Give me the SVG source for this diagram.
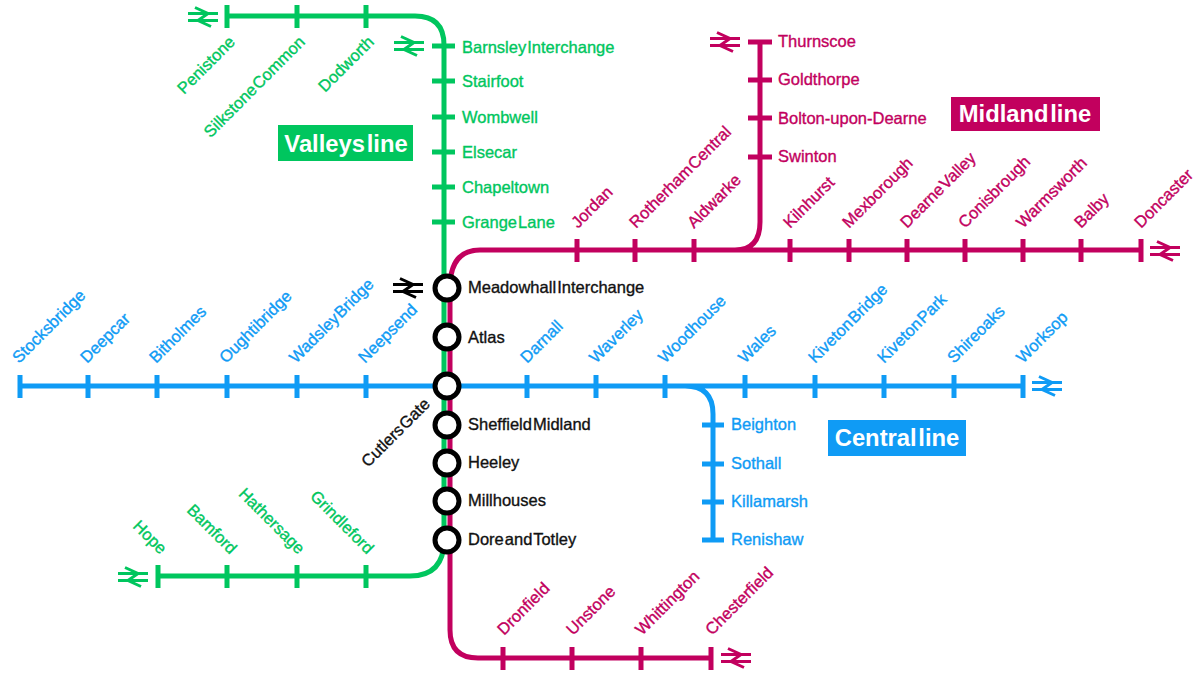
<svg xmlns="http://www.w3.org/2000/svg" width="1200" height="675" viewBox="0 0 1200 675">
<style>
text{font-family:"Liberation Sans",Arial,sans-serif;font-size:16.5px;word-spacing:-3.5px;stroke-width:.35px;paint-order:stroke}
.g{fill:#00c65e;stroke:#00c65e}.m{fill:#c2005e;stroke:#c2005e}.b{fill:#0f9bf5;stroke:#0f9bf5}.k{fill:#111;stroke:#111}
.ln{fill:none;stroke-width:5}
.sg{stroke:#00c65e}.sm{stroke:#c2005e}.sb{stroke:#0f9bf5}
.e{text-anchor:end}
.st{fill:#fff;stroke:#000;stroke-width:5}
.t{font-size:23.8px;font-weight:700;fill:#fff;text-anchor:middle;word-spacing:-5px;stroke:none}
.br{fill:none;stroke-width:3}
</style>
<defs>
<g id="br"><path d="M-15,-3.5H15M-15,3.5H15M-8,-9.5L5,-3.5L-5,3.5L8,9.5"/></g>
</defs>
<rect width="1200" height="675" fill="#fff"/>
<g id="connectors">
<path class="ln sb" d="M20,386H1023M685,386Q713,386 713,414V540M20,375V398M88,375V398M157,375V398M227,375V398M297,375V398M366,375V398M527,375V398M596,375V398M665,375V398M745,375V398M815,375V398M884,375V398M954,375V398M1023,375V398M702,425H724M702,464H724M702,502H724M702,540H724"/>
<path class="ln sg" d="M227,16H415Q444,16 444,45V540Q444,576 410,576H158M227,5V28M297,5V28M366,5V28M432,46H455M432,81H455M432,117H455M432,152H455M432,187H455M432,222H455M158,565V588M227,565V588M297,565V588M366,565V588"/>
<path class="ln sm" d="M1141,250H480Q450,250 450,288V630Q450,658 478,658H711M735,250Q760,250 760,222V42M577,239V262M635,239V262M694,239V262M790,239V262M849,239V262M907,239V262M965,239V262M1023,239V262M1081,239V262M1141,239V262M748,42H772M748,80H772M748,118H772M748,157H772M503,647V670M572,647V670M641,647V670M711,647V670"/>
</g>
<g id="rail-symbols">
<use href="#br" x="203" y="17" class="br sg"/>
<use href="#br" x="409" y="46" class="br sg"/>
<use href="#br" x="725" y="42" class="br sm"/>
<use href="#br" x="1165" y="251" class="br sm"/>
<use href="#br" x="1047" y="386" class="br sb"/>
<use href="#br" x="408" y="288" class="br" stroke="#000"/>
<use href="#br" x="133" y="577" class="br sg"/>
<use href="#br" x="736" y="658" class="br sm"/>
</g>
<g id="valleys-line">
<rect x="278" y="125" width="135" height="36" fill="#00c65e"/>
<text class="t" x="346" y="152">Valleys line</text>
<text class="g e" transform="translate(236,43) rotate(-45)">Penistone</text>
<text class="g e" transform="translate(306,43) rotate(-45)">Silkstone Common</text>
<text class="g e" transform="translate(375,43) rotate(-45)">Dodworth</text>
<text class="g" x="462" y="53">Barnsley Interchange</text>
<text class="g" x="462" y="87">Stairfoot</text>
<text class="g" x="462" y="123">Wombwell</text>
<text class="g" x="462" y="158">Elsecar</text>
<text class="g" x="462" y="193">Chapeltown</text>
<text class="g" x="462" y="228">Grange Lane</text>
<text class="g e" transform="translate(160,555) rotate(45)">Hope</text>
<text class="g e" transform="translate(230,555) rotate(45)">Bamford</text>
<text class="g e" transform="translate(298,555) rotate(45)">Hathersage</text>
<text class="g e" transform="translate(367,555) rotate(45)">Grindleford</text>
</g>
<g id="midland-line">
<rect x="951" y="97" width="149" height="34" fill="#c2005e"/>
<text class="t" x="1025" y="122">Midland line</text>
<text class="m" x="778" y="47">Thurnscoe</text>
<text class="m" x="778" y="85">Goldthorpe</text>
<text class="m" x="778" y="124">Bolton-upon-Dearne</text>
<text class="m" x="778" y="162">Swinton</text>
<text class="m" transform="translate(578,229) rotate(-45)">Jordan</text>
<text class="m" transform="translate(636,229) rotate(-45)">Rotherham Central</text>
<text class="m" transform="translate(694,229) rotate(-45)">Aldwarke</text>
<text class="m" transform="translate(790,229) rotate(-45)">Kilnhurst</text>
<text class="m" transform="translate(849,229) rotate(-45)">Mexborough</text>
<text class="m" transform="translate(907,229) rotate(-45)">Dearne Valley</text>
<text class="m" transform="translate(965,229) rotate(-45)">Conisbrough</text>
<text class="m" transform="translate(1023,229) rotate(-45)">Warmsworth</text>
<text class="m" transform="translate(1081,229) rotate(-45)">Balby</text>
<text class="m" transform="translate(1141,229) rotate(-45)">Doncaster</text>
<text class="m" transform="translate(504,636) rotate(-45)">Dronfield</text>
<text class="m" transform="translate(573,636) rotate(-45)">Unstone</text>
<text class="m" transform="translate(642,636) rotate(-45)">Whittington</text>
<text class="m" transform="translate(712,636) rotate(-45)">Chesterfield</text>
</g>
<g id="central-line">
<rect x="828" y="420" width="138" height="36" fill="#0f9bf5"/>
<text class="t" x="897" y="446">Central line</text>
<text class="b" transform="translate(19,364) rotate(-45)">Stocksbridge</text>
<text class="b" transform="translate(87,364) rotate(-45)">Deepcar</text>
<text class="b" transform="translate(156,364) rotate(-45)">Bitholmes</text>
<text class="b" transform="translate(226,364) rotate(-45)">Oughtibridge</text>
<text class="b" transform="translate(296,364) rotate(-45)">Wadsley Bridge</text>
<text class="b" transform="translate(365,364) rotate(-45)">Neepsend</text>
<text class="b" transform="translate(527,364) rotate(-45)">Darnall</text>
<text class="b" transform="translate(596,364) rotate(-45)">Waverley</text>
<text class="b" transform="translate(665,364) rotate(-45)">Woodhouse</text>
<text class="b" transform="translate(745,364) rotate(-45)">Wales</text>
<text class="b" transform="translate(815,364) rotate(-45)">Kiveton Bridge</text>
<text class="b" transform="translate(884,364) rotate(-45)">Kiveton Park</text>
<text class="b" transform="translate(954,364) rotate(-45)">Shireoaks</text>
<text class="b" transform="translate(1023,364) rotate(-45)">Worksop</text>
<text class="b" x="731" y="430">Beighton</text>
<text class="b" x="731" y="469">Sothall</text>
<text class="b" x="731" y="507">Killamarsh</text>
<text class="b" x="731" y="545">Renishaw</text>
</g>
<g id="meadowhall"><circle class="st" cx="447" cy="288" r="12"/><text class="k" x="468" y="293">Meadowhall Interchange</text></g>
<g id="atlas"><circle class="st" cx="447" cy="337" r="12"/><text class="k" x="468" y="343">Atlas</text></g>
<g id="cutlers-gate"><circle class="st" cx="447" cy="386" r="12"/><text class="k e" transform="translate(431,405) rotate(-45)">Cutlers Gate</text></g>
<g id="sheffield-midland"><circle class="st" cx="447" cy="425" r="12"/><text class="k" x="468" y="430">Sheffield Midland</text></g>
<g id="heeley"><circle class="st" cx="447" cy="463" r="12"/><text class="k" x="468" y="468">Heeley</text></g>
<g id="millhouses"><circle class="st" cx="447" cy="501" r="12"/><text class="k" x="468" y="506">Millhouses</text></g>
<g id="dore-totley"><circle class="st" cx="447" cy="540" r="12"/><text class="k" x="468" y="545">Dore and Totley</text></g>
</svg>
